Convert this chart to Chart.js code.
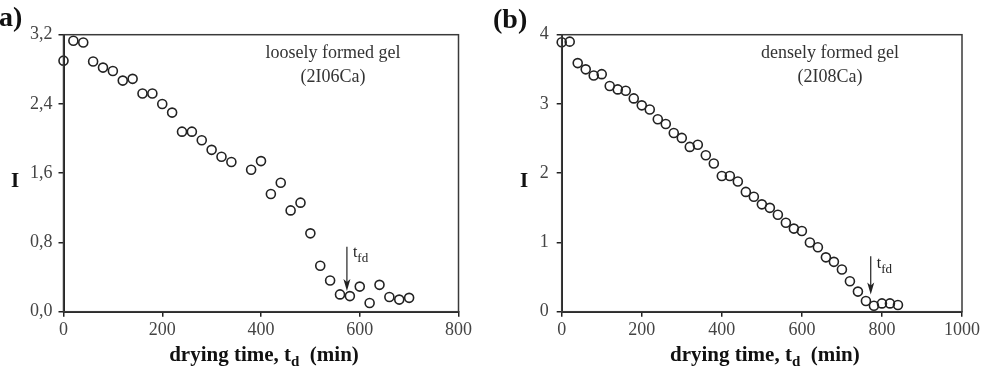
<!DOCTYPE html>
<html>
<head>
<meta charset="utf-8">
<script src="https://cdn.jsdelivr.net/npm/chart.js@4.4.0/dist/chart.umd.min.js"></script>
<style>
    html, body { margin: 0; padding: 0; background: #fff; }
    #wrap { position: relative; width: 983px; height: 372px; overflow: hidden; }
    canvas { position: absolute; top: 0; }
</style>
</head>
<body>
<div id="wrap">
    <canvas id="chartA" width="491" height="372" style="left:0;width:491px;height:372px"></canvas>
    <canvas id="chartB" width="492" height="372" style="left:491px;width:492px;height:372px"></canvas>
</div>
<script>
// panel (a) - loosely formed gel (2I06Ca)
const timeA = [0, 20, 40, 60, 80, 100, 120, 140, 160, 180, 200, 220, 240, 260, 280, 300, 320, 340,
    380, 400, 420, 440, 460, 480, 500, 520, 540, 560, 580, 600, 620, 640, 660, 680, 700];
const indexA = [2.90, 3.13, 3.11, 2.89, 2.82, 2.78, 2.67, 2.69, 2.52, 2.52, 2.40, 2.30, 2.08, 2.08, 1.98, 1.87, 1.79, 1.73,
    1.64, 1.74, 1.36, 1.49, 1.17, 1.26, 0.905, 0.53, 0.36, 0.20, 0.18, 0.29, 0.10, 0.31, 0.17, 0.14, 0.16];
const xTicksA = [0, 200, 400, 600, 800];
const xLabelsA = ['0', '200', '400', '600', '800'];
const yTicksA = [0, 0.8, 1.6, 2.4, 3.2];
const yLabelsA = ['0,0', '0,8', '1,6', '2,4', '3,2'];

// panel (b) - densely formed gel (2I08Ca)
const timeB = [0, 20, 40, 60, 80, 100, 120, 140, 160, 180, 200, 220, 240, 260, 280, 300, 320, 340, 360, 380, 400, 420,
    440, 460, 480, 500, 520, 540, 560, 580, 600, 620, 640, 660, 680, 700, 720, 740, 760, 780, 800, 820, 840];
const indexB = [3.89, 3.90, 3.59, 3.50, 3.41, 3.43, 3.26, 3.21, 3.19, 3.08, 2.98, 2.92, 2.78, 2.71, 2.58, 2.51, 2.38, 2.41, 2.26, 2.14, 1.96, 1.96,
    1.88, 1.73, 1.66, 1.55, 1.50, 1.40, 1.285, 1.20, 1.165, 1.00, 0.93, 0.785, 0.72, 0.61, 0.44, 0.29, 0.155, 0.087, 0.12, 0.12, 0.097];
const xTicksB = [0, 200, 400, 600, 800, 1000];
const xLabelsB = ['0', '200', '400', '600', '800', '1000'];
const yTicksB = [0, 1, 2, 3, 4];
const yLabelsB = ['0', '1', '2', '3', '4'];

// t_fd arrows (time, I at top, I at tip)
const arrowA = { t: 574, from: 0.75, to: 0.24 };
const arrowB = { t: 772, from: 0.80, to: 0.25 };

const SERIF = '"Liberation Serif", "DejaVu Serif", serif';

const decor = {
    id: 'decor',
    afterDraw(chart, args, o) {
        const { ctx, chartArea: a, scales: { x, y } } = chart;
        ctx.save();

        // frame
        ctx.strokeStyle = '#3a3a3a';
        ctx.lineWidth = 1.5;
        ctx.strokeRect(a.left, a.top, a.right - a.left, a.bottom - a.top);

        // panel letter
        ctx.fillStyle = '#111';
        ctx.font = 'bold 28px ' + SERIF;
        ctx.textAlign = 'left';
        ctx.textBaseline = 'middle';
        ctx.fillText(o.letter, o.letterX, o.letterY);

        // y title
        ctx.font = 'bold 21px ' + SERIF;
        ctx.textAlign = 'center';
        ctx.fillText('I', o.yTitleX, 182);

        // x title with subscript
        const p1 = 'drying time, t', p2 = 'd', p3 = '  (min)';
        ctx.font = 'bold 21px ' + SERIF;
        const w1 = ctx.measureText(p1).width, w3 = ctx.measureText(p3).width;
        ctx.font = 'bold 15px ' + SERIF;
        const w2 = ctx.measureText(p2).width;
        let sx = (a.left + a.right) / 2 + o.xTitleShift - (w1 + w2 + w3) / 2;
        ctx.textAlign = 'left';
        ctx.textBaseline = 'alphabetic';
        ctx.font = 'bold 21px ' + SERIF;
        ctx.fillText(p1, sx, 361);
        ctx.font = 'bold 15px ' + SERIF;
        ctx.fillText(p2, sx + w1, 366);
        ctx.font = 'bold 21px ' + SERIF;
        ctx.fillText(p3, sx + w1 + w2, 361);

        // sample note
        ctx.fillStyle = '#333';
        ctx.font = '18px ' + SERIF;
        ctx.textAlign = 'center';
        ctx.textBaseline = 'middle';
        ctx.fillText(o.note[0], o.noteX, 53);
        ctx.fillText(o.note[1], o.noteX, 77);

        // t_fd arrow
        const px = x.getPixelForValue(o.arrow.t);
        const y1 = y.getPixelForValue(o.arrow.from);
        const y2 = y.getPixelForValue(o.arrow.to);
        ctx.strokeStyle = '#222';
        ctx.fillStyle = '#222';
        ctx.lineWidth = 1.2;
        ctx.beginPath();
        ctx.moveTo(px, y1);
        ctx.lineTo(px, y2 - 6);
        ctx.stroke();
        ctx.beginPath();
        ctx.moveTo(px, y2);
        ctx.lineTo(px - 3.5, y2 - 12);
        ctx.lineTo(px, y2 - 9);
        ctx.lineTo(px + 3.5, y2 - 12);
        ctx.closePath();
        ctx.fill();

        ctx.textAlign = 'left';
        ctx.textBaseline = 'alphabetic';
        ctx.font = '16px ' + SERIF;
        ctx.fillText('t', px + 6, y1 + o.labelDy);
        const tw = ctx.measureText('t').width;
        ctx.font = '13px ' + SERIF;
        ctx.fillText('fd', px + 6 + tw, y1 + o.labelDy + 5);

        ctx.restore();
    },
};

function makePanel(id, cfg) {
    const points = cfg.xs.map((t, i) => ({ x: t, y: cfg.ys[i] }));
    return new Chart(document.getElementById(id), {
        type: 'scatter',
        data: {
            datasets: [{
                data: points,
                showLine: false,
                clip: false,
                pointStyle: 'circle',
                pointRadius: 4.5,
                pointBackgroundColor: 'rgba(255,255,255,0)',
                pointBorderColor: '#222',
                pointBorderWidth: 1.6,
            }],
        },
        options: {
            responsive: false,
            animation: false,
            layout: { padding: { left: 0, right: cfg.padRight, top: 34.7, bottom: 0 } },
            plugins: {
                legend: { display: false },
                tooltip: { enabled: false },
                decor: cfg.decor,
            },
            scales: {
                x: {
                    type: 'linear',
                    min: 0,
                    max: cfg.xTicks[cfg.xTicks.length - 1],
                    afterBuildTicks(s) { s.ticks = cfg.xTicks.map(v => ({ value: v })); },
                    afterFit(s) { s.height = 372 - 311.7; },
                    ticks: {
                        font: { family: SERIF, size: 18 },
                        color: '#444',
                        padding: 3,
                        maxRotation: 0,
                        autoSkip: false,
                        callback: (v, i) => cfg.xLabels[i],
                    },
                    grid: { drawOnChartArea: false, drawTicks: true, tickLength: 5, color: '#222', lineWidth: 1.5 },
                    border: { display: true, color: '#222', width: 2 },
                },
                y: {
                    type: 'linear',
                    min: 0,
                    max: cfg.yTicks[cfg.yTicks.length - 1],
                    afterBuildTicks(s) { s.ticks = cfg.yTicks.map(v => ({ value: v })); },
                    afterFit(s) { s.width = cfg.left; },
                    ticks: {
                        font: { family: SERIF, size: 18 },
                        color: '#444',
                        padding: cfg.yPad,
                        autoSkip: false,
                        callback: (v, i) => cfg.yLabels[i],
                    },
                    grid: { drawOnChartArea: false, drawTicks: true, tickLength: 5, color: '#222', lineWidth: 1.5 },
                    border: { display: true, color: '#222', width: 2 },
                },
            },
        },
        plugins: [decor],
    });
}

makePanel('chartA', {
    xs: timeA, ys: indexA,
    xTicks: xTicksA, xLabels: xLabelsA, yTicks: yTicksA, yLabels: yLabelsA,
    left: 63.5, padRight: 491 - 458.5, yPad: 6,
    decor: {
        letter: 'a)', letterX: -1, letterY: 19,
        yTitleX: 15, xTitleShift: 3,
        note: ['loosely formed gel', '(2I06Ca)'], noteX: 333,
        arrow: arrowA, labelDy: 10,
    },
});

makePanel('chartB', {
    xs: timeB, ys: indexB,
    xTicks: xTicksB, xLabels: xLabelsB, yTicks: yTicksB, yLabels: yLabelsB,
    left: 561.7 - 491, padRight: 492 - (964.5 - 491), yPad: 8,
    decor: {
        letter: '(b)', letterX: 493 - 491, letterY: 21,
        yTitleX: 524 - 491, xTitleShift: 3,
        note: ['densely formed gel', '(2I08Ca)'], noteX: 830 - 491,
        arrow: arrowB, labelDy: 12,
    },
});
</script>
</body>
</html>
